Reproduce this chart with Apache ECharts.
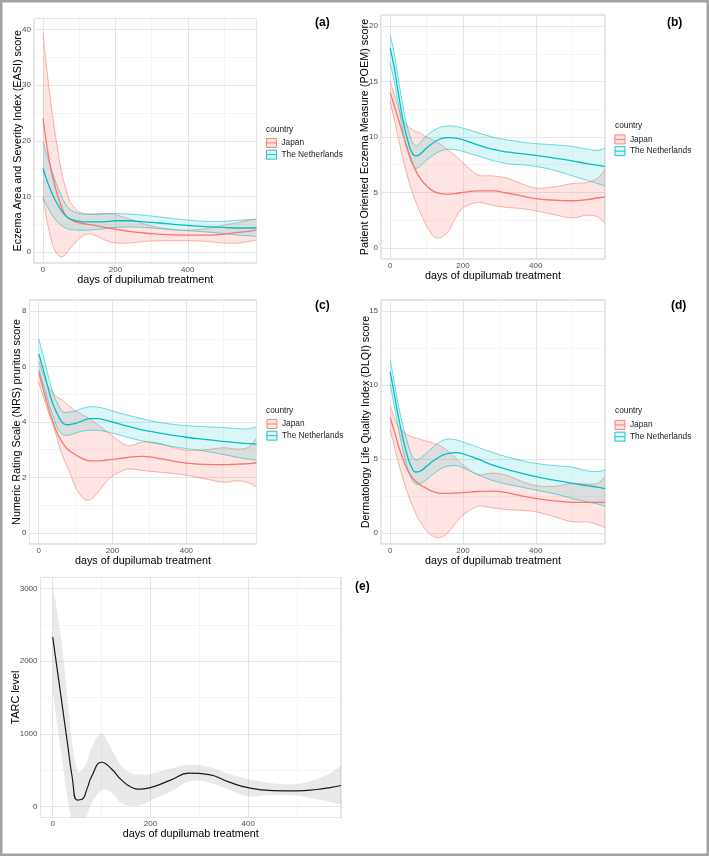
<!DOCTYPE html>
<html>
<head>
<meta charset="utf-8">
<script src="https://cdn.jsdelivr.net/npm/echarts@6/dist/echarts.min.js"></script>
<style>html,body{margin:0;padding:0;background:#fff;}#c{width:709px;height:856px;}</style>
</head>
<body>
<div id="c"></div>
<script>
// days of dupilumab treatment (shared sampling of the smoothed curves)
const days = [0,10,20,30,40,50,60,70,80,100,120,140,160,180,200,240,280,320,360,400,450,500,540,570,590];
const xTickLabels = ['0','200','400'];
const countries = ['Japan','The Netherlands'];

// (a) EASI
const easiJapanFit = [24,19.3,15.5,12.6,10.2,8.3,6.8,6.1,5.7,5.2,5.0,4.8,4.55,4.3,4.1,3.7,3.4,3.2,3.05,3.0,3.0,3.2,3.5,3.7,3.9];
const easiJapanHi  = [39.3,33,27.7,22.8,18.6,14.8,12,9.8,8.5,7.2,6.8,6.8,6.9,6.9,6.7,5.9,5.0,4.4,4.0,3.9,4.2,4.8,5.3,5.7,5.9];
const easiJapanLo  = [9.7,6.0,2.8,0.6,-0.5,-0.9,-0.6,0.2,1.0,2.4,3.2,3.1,2.5,1.9,1.6,1.6,1.9,2.0,2.0,2.0,1.9,1.6,1.6,1.9,2.1];
const easiNlFit = [15,13,11.3,9.8,8.6,7.5,6.7,6.1,5.8,5.5,5.4,5.4,5.4,5.5,5.6,5.6,5.4,5.2,4.95,4.75,4.55,4.4,4.3,4.3,4.3];
const easiNlHi  = [19.8,17.5,15.5,13.5,11.7,10.2,8.8,7.9,7.4,6.9,6.8,6.8,6.8,6.9,6.9,6.8,6.6,6.3,6.0,5.7,5.5,5.5,5.7,5.8,5.9];
const easiNlLo  = [9.8,8.4,7.2,6.2,5.4,4.8,4.4,4.1,4.0,3.9,3.9,4.0,4.1,4.3,4.4,4.5,4.4,4.2,4.0,3.8,3.6,3.3,3.0,2.9,2.8];

// (b) POEM
const poemJapanFit = [14.0,13.0,11.9,10.8,9.7,8.7,7.8,7.0,6.4,5.6,5.1,4.9,4.85,4.9,5.0,5.15,5.15,4.95,4.7,4.45,4.3,4.25,4.35,4.5,4.6];
const poemJapanHi  = [15.1,14.0,12.9,12.0,11.3,10.9,10.7,10.5,10.4,10.0,9.7,9.3,8.8,8.3,7.7,6.6,6.5,6.3,5.8,5.4,5.5,5.8,5.9,6.3,7.1];
const poemJapanLo  = [13.2,11.8,10.3,8.8,7.4,6.2,5.1,4.2,3.4,2.0,1.0,0.95,1.5,2.7,3.6,4.1,3.85,3.65,3.55,3.35,3.0,2.7,2.95,2.8,2.2];
const poemNlFit = [18.0,16.5,14.5,12.5,10.8,9.5,8.6,8.3,8.4,9.0,9.5,9.85,9.95,9.9,9.75,9.3,8.9,8.65,8.5,8.35,8.1,7.85,7.6,7.45,7.35];
const poemNlHi  = [19.2,17.8,15.8,13.8,12.0,10.6,9.6,9.2,9.4,10.1,10.6,10.9,11.0,10.95,10.8,10.4,10.0,9.75,9.55,9.4,9.3,9.15,8.9,8.8,9.0];
const poemNlLo  = [16.7,15.2,13.4,11.5,9.8,8.5,7.6,7.2,7.3,7.9,8.4,8.75,8.9,8.85,8.7,8.3,7.9,7.6,7.5,7.35,7.0,6.5,6.1,5.8,5.6];

// (c) NRS
const nrsJapanFit = [5.8,5.3,4.8,4.35,3.95,3.6,3.35,3.15,3.0,2.82,2.67,2.6,2.6,2.62,2.65,2.72,2.76,2.7,2.6,2.52,2.47,2.46,2.48,2.5,2.53];
const nrsJapanHi  = [6.2,5.8,5.45,5.2,5.0,4.9,4.82,4.72,4.6,4.4,4.25,4.1,3.9,3.7,3.5,3.15,3.27,3.25,3.1,2.98,3.0,3.07,3.02,3.1,3.43];
const nrsJapanLo  = [5.45,5.0,4.6,4.2,3.85,3.4,2.95,2.6,2.3,1.65,1.25,1.2,1.45,1.8,2.05,2.3,2.25,2.2,2.15,2.08,1.95,1.83,1.88,1.8,1.65];
const nrsNlFit = [6.45,6.0,5.5,5.0,4.6,4.3,4.05,3.92,3.9,3.95,4.05,4.12,4.12,4.07,4.0,3.85,3.72,3.62,3.53,3.45,3.37,3.3,3.25,3.22,3.2];
const nrsNlHi  = [7.0,6.5,5.95,5.45,5.0,4.7,4.45,4.35,4.35,4.4,4.5,4.55,4.54,4.48,4.4,4.25,4.12,4.0,3.92,3.87,3.83,3.8,3.76,3.76,3.83];
const nrsNlLo  = [5.9,5.45,5.0,4.55,4.15,3.8,3.6,3.52,3.52,3.6,3.68,3.7,3.7,3.66,3.6,3.45,3.32,3.22,3.12,3.04,2.95,2.83,2.72,2.66,2.62];

// (d) DLQI
const dlqiJapanFit = [7.8,7.0,6.15,5.35,4.7,4.15,3.75,3.5,3.3,3.0,2.78,2.68,2.67,2.7,2.73,2.8,2.83,2.72,2.5,2.33,2.17,2.07,2.06,2.06,2.06];
const dlqiJapanHi  = [8.6,7.9,7.35,7.0,6.75,6.6,6.5,6.42,6.35,6.2,6.05,5.85,5.5,5.05,4.6,3.95,4.05,3.9,3.5,3.2,3.15,3.35,3.3,3.35,3.8];
const dlqiJapanLo  = [7.0,6.0,5.0,4.1,3.3,2.55,1.9,1.35,0.85,0.15,-0.25,-0.3,0.05,0.65,1.2,1.8,1.7,1.58,1.52,1.43,1.1,0.75,0.75,0.55,0.34];
const dlqiNlFit = [10.9,9.6,8.2,7.0,5.9,5.0,4.4,4.12,4.15,4.5,4.9,5.2,5.38,5.43,5.35,5.0,4.6,4.3,4.05,3.8,3.57,3.35,3.2,3.1,3.0];
const dlqiNlHi  = [11.7,10.4,9.0,7.8,6.8,5.9,5.2,4.95,5.0,5.4,5.85,6.2,6.35,6.3,6.15,5.8,5.45,5.15,4.9,4.7,4.55,4.45,4.2,4.15,4.25];
const dlqiNlLo  = [10.1,8.8,7.4,6.2,5.1,4.2,3.6,3.3,3.3,3.6,4.0,4.35,4.52,4.55,4.4,3.95,3.55,3.3,3.1,2.9,2.65,2.33,2.1,1.95,1.81];

// (e) TARC
const tarcFit = [2330,1850,1365,880,400,90,100,240,420,610,520,370,270,240,260,360,460,440,340,260,220,215,235,265,290];
const tarcHi  = [3050,2650,2150,1500,850,500,500,620,820,1010,800,560,460,440,450,520,575,545,450,380,320,310,380,470,560];
const tarcLo  = [1600,1100,600,120,-250,-380,-300,-120,50,225,190,50,10,20,80,200,350,330,230,140,160,150,100,60,30];

const JP = '#F8766D', NL = '#00BFC4';
const JPfill = 'rgba(248,118,109,0.2)', NLfill = 'rgba(0,191,196,0.14)';
const FONT = '"Liberation Sans", Arial, sans-serif';

const grids = [
  {left:34, top:18.5, width:222.5, height:244.5},
  {left:381, top:15, width:224, height:244},
  {left:29.5, top:300, width:227, height:244},
  {left:381, top:300, width:224, height:244},
  {left:40.5, top:577.5, width:300.5, height:240}
];
const yCfg = [
  {min:-2, max:42, split:5, name:'Eczema Area and Severity Index (EASI) score', gap:10.9},
  {min:-1, max:21, split:4, name:'Patient Oriented Eczema Measure (POEM) score', gap:10.6},
  {min:-0.4, max:8.4, split:4, name:'Numeric Rating Scale (NRS) pruritus score', gap:7.4},
  {min:-0.75, max:15.75, split:3, name:'Dermatology Life Quality Index (DLQI) score', gap:9.8},
  {min:-150, max:3150, split:3, name:'TARC level', gap:18.9}
];
const xGaps = [10, 11.5, 10.5, 10.5, 11];

const gridLine = {lineStyle:{color:'#E6E6E6', width:1}};
const minorLine = {show:true, lineStyle:{color:'#F1F1F1', width:0.7}};

const xAxes = grids.map((g,i)=>({
  gridIndex:i, type:'value', min:-25, max:590, splitNumber:3,
  axisLine:{show:false}, axisTick:{show:false},
  axisLabel:{fontSize:8, color:'#4D4D4D', margin:2.5, showMinLabel:false, showMaxLabel:false,
    formatter:v=> xTickLabels.includes(String(v)) ? String(v) : ''},
  splitLine:gridLine, minorTick:{show:false, splitNumber:2}, minorSplitLine:minorLine,
  name:'days of dupilumab treatment', nameLocation:'middle', nameGap:xGaps[i],
  nameTextStyle:{fontSize:10.8, color:'#000', fontFamily:FONT}
}));
const yAxes = yCfg.map((c,i)=>({
  gridIndex:i, type:'value', min:c.min, max:c.max, splitNumber:c.split,
  axisLine:{show:false}, axisTick:{show:false},
  axisLabel:{fontSize:8, color:'#4D4D4D', margin:3, showMinLabel:false, showMaxLabel:false,
    formatter:v=>String(v)},
  splitLine:gridLine, minorTick:{show:false, splitNumber:2}, minorSplitLine:minorLine,
  name:c.name, nameLocation:'middle', nameGap:c.gap, nameMoveOverlap:false,
  nameTextStyle:{fontSize:10.8, color:'#000', fontFamily:FONT}
}));

function pts(arr){ return days.map((d,i)=>[d, arr[i]]); }

// Catmull-Rom -> cubic Bezier segments through pixel points
function bez(P){
  let s = '';
  for (let i = 0; i < P.length - 1; i++) {
    const p0 = P[i-1] || P[i], p1 = P[i], p2 = P[i+1], p3 = P[i+2] || P[i+1];
    const c1x = p1[0] + (p2[0]-p0[0])/6, c1y = p1[1] + (p2[1]-p0[1])/6;
    const c2x = p2[0] - (p3[0]-p1[0])/6, c2y = p2[1] - (p3[1]-p1[1])/6;
    s += 'C' + c1x.toFixed(2) + ',' + c1y.toFixed(2) + ' ' + c2x.toFixed(2) + ',' + c2y.toFixed(2) + ' ' + p2[0].toFixed(2) + ',' + p2[1].toFixed(2);
  }
  return s;
}
function mv(p, c){ return c + p[0].toFixed(2) + ',' + p[1].toFixed(2); }

const series = [];
function band(g, id, color, fill, lo, hi, edge){
  series.push({
    type:'custom', name:id, xAxisIndex:g, yAxisIndex:g, silent:true, z:2,
    data: days.map((d,i)=>[d, lo[i], hi[i]]),
    encode:{x:0, y:[1,2]},
    renderItem:function(params, api){
      if (params.dataIndex !== 0) return null;
      const U = days.map((d,i)=>api.coord([d, hi[i]]));
      const L = days.map((d,i)=>api.coord([d, lo[i]])).reverse();
      const area = mv(U[0],'M') + bez(U) + mv(L[0],'L') + bez(L) + 'Z';
      const cs = params.coordSys;
      const children = [{type:'path', shape:{pathData:area}, style:{fill:fill, stroke:null}}];
      if (edge) {
        children.push({type:'path', shape:{pathData:mv(U[0],'M') + bez(U)}, style:{fill:null, stroke:color, lineWidth:0.7, opacity:0.8}});
        children.push({type:'path', shape:{pathData:mv(L[0],'M') + bez(L)}, style:{fill:null, stroke:color, lineWidth:0.7, opacity:0.8}});
      }
      return {type:'group', children:children,
        clipPath:{type:'rect', shape:{x:cs.x, y:cs.y, width:cs.width, height:cs.height}}};
    }
  });
}
function fit(g, name, color, arr, w){
  series.push({type:'line', name:name, xAxisIndex:g, yAxisIndex:g, data:pts(arr),
    smooth:0.5, symbol:'none', z:4, clip:true,
    lineStyle:{color:color, width:w}, itemStyle:{color:color}});
}
const panels = [
  [easiJapanFit, easiJapanLo, easiJapanHi, easiNlFit, easiNlLo, easiNlHi],
  [poemJapanFit, poemJapanLo, poemJapanHi, poemNlFit, poemNlLo, poemNlHi],
  [nrsJapanFit, nrsJapanLo, nrsJapanHi, nrsNlFit, nrsNlLo, nrsNlHi],
  [dlqiJapanFit, dlqiJapanLo, dlqiJapanHi, dlqiNlFit, dlqiNlLo, dlqiNlHi]
];
panels.forEach((p,g)=>{
  band(g, 'jp band '+g, JP, JPfill, p[1], p[2], true);
  band(g, 'nl band '+g, NL, NLfill, p[4], p[5], true);
  fit(g, countries[0], JP, p[0], 1.3);
  fit(g, countries[1], NL, p[3], 1.3);
});
band(4, 'tarc band', '#999', 'rgba(153,153,153,0.22)', tarcLo, tarcHi, false);
fit(4, 'TARC', '#1a1a1a', tarcFit, 1.2);

const keyIcon = 'path://M0,0L10,0L10,9L0,9Z M0,4.5L10,4.5';
const legendData = [
  {name:countries[0], icon:keyIcon, itemStyle:{color:'rgba(248,118,109,0.2)', borderColor:JP, borderWidth:0.9}},
  {name:countries[1], icon:keyIcon, itemStyle:{color:'rgba(0,191,196,0.14)', borderColor:NL, borderWidth:0.9}}
];
const legendPos = [[266,138],[614.5,134.5],[266.5,419],[614.5,420]];
const legends = legendPos.map(p=>({
  orient:'vertical', left:p[0], top:p[1], padding:0, itemWidth:10, itemHeight:9, itemGap:1.8,
  selectedMode:false, data:legendData,
  textStyle:{fontSize:8.3, color:'#1A1A1A', fontFamily:FONT}
}));

const titles = [
  ['(a)',315,17],['(b)',667,17],['(c)',315,300],['(d)',671,300],['(e)',355,581]
].map(t=>({text:t[0], left:t[1], top:t[2], padding:0,
  textStyle:{fontSize:12, fontWeight:'bold', color:'#000', fontFamily:FONT}}))
.concat([[266,125.5],[615,121.5],[266,406.5],[615,406.5]].map(p=>({
  text:'country', left:p[0], top:p[1], padding:0,
  textStyle:{fontSize:8.3, fontWeight:'normal', color:'#1A1A1A', fontFamily:FONT}})));

const chart = echarts.init(document.getElementById('c'), null, {renderer:'canvas'});
chart.setOption({
  backgroundColor:'#fff',
  animation:false,
  textStyle:{fontFamily:FONT},
  title:titles,
  legend:legends,
  grid:grids.map(g=>Object.assign({show:true, borderColor:'#C9C9C9', borderWidth:1, backgroundColor:'transparent', containLabel:false}, g)),
  xAxis:xAxes,
  yAxis:yAxes,
  series:series,
  graphic:[{type:'rect', shape:{x:1.25, y:1.25, width:706.5, height:853.5},
    style:{fill:'none', stroke:'#A3A3A3', lineWidth:2.5}, z:100}]
});
</script>
</body>
</html>
